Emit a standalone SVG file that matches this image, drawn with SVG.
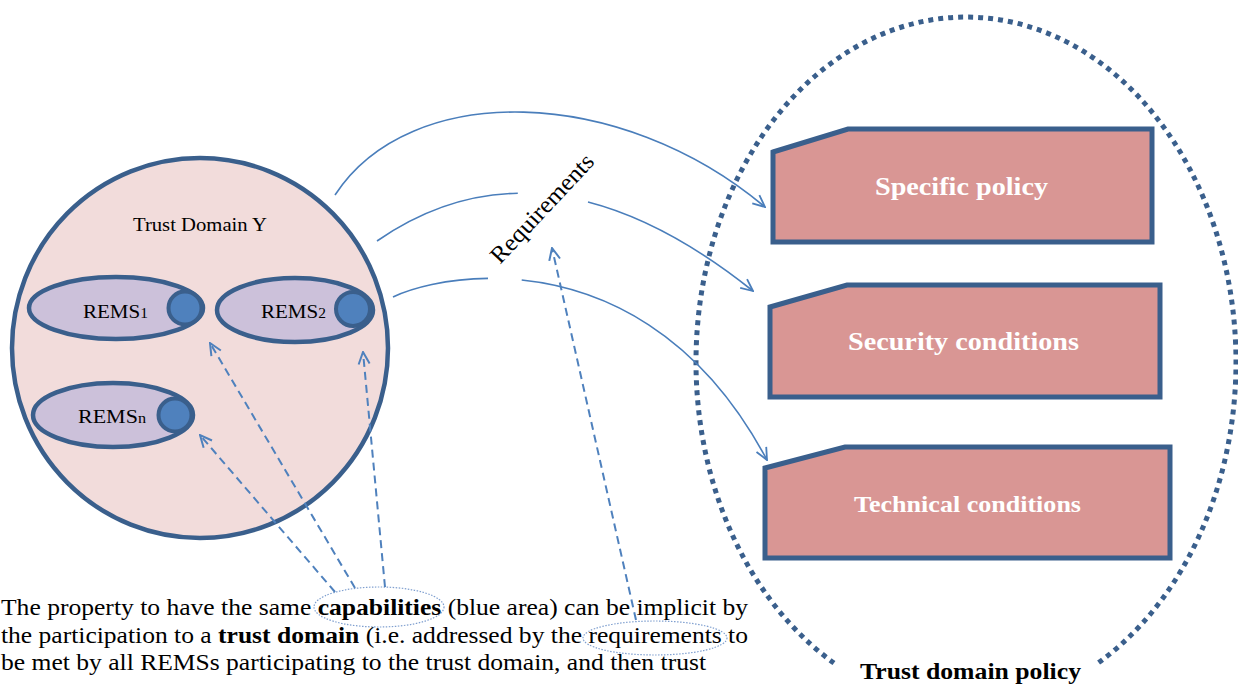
<svg xmlns="http://www.w3.org/2000/svg" width="1238" height="684" viewBox="0 0 1238 684">
  <style>
    .serif { font-family: "Liberation Serif", "Times New Roman", serif; }
    .domain { fill: #F2DCDB; stroke: #3A5F8C; stroke-width: 4.5; }
    .rems { fill: #CCC1DA; stroke: #3A5F8C; stroke-width: 4.5; }
    .cap { fill: #4F81BD; stroke: #3A5F8C; stroke-width: 4; }
    .box { fill: #D99694; stroke: #3A5F8C; stroke-width: 5; stroke-linejoin: miter; }
    .boxtxt { fill: #FFFFFF; font-weight: bold; }
    .arc { fill: none; stroke: #4A7EBB; stroke-width: 1.6; }
    .dash { fill: none; stroke: #4F81BD; stroke-width: 2; stroke-dasharray: 8 5; }
    .policy { fill: none; stroke: #3A5F8C; stroke-width: 5; stroke-dasharray: 5 5; }
    .hl { fill: none; stroke: #7F9FCF; stroke-width: 1.2; stroke-dasharray: 1.5 1.5; }
    .lbl { fill: #000000; }
  </style>
  <defs>
    <marker id="open" viewBox="0 0 14 14" refX="13" refY="7" markerWidth="14" markerHeight="14" orient="auto" markerUnits="userSpaceOnUse">
      <path d="M1,1.5 L13,7 L1,12.5" fill="none" stroke="#4A7EBB" stroke-width="1.8"/>
    </marker>
    <marker id="openD" viewBox="0 0 14 14" refX="13" refY="7" markerWidth="14" markerHeight="14" orient="auto" markerUnits="userSpaceOnUse">
      <path d="M1,1.5 L13,7 L1,12.5" fill="none" stroke="#4F81BD" stroke-width="2"/>
    </marker>
  </defs>

  <!-- Trust domain policy (dotted ellipse) -->
  <g id="trust-domain-policy">
    <path class="policy" d="M834,663 A270,345 0 1 1 1098,663"/>
    <text class="serif lbl" x="860" y="679" font-size="24" font-weight="bold" textLength="221" lengthAdjust="spacingAndGlyphs">Trust domain policy</text>
  </g>

  <!-- Trust Domain Y -->
  <g id="trust-domain-y">
    <ellipse class="domain" cx="200" cy="348" rx="188" ry="190"/>
    <text class="serif lbl" x="133" y="231" font-size="19" textLength="134" lengthAdjust="spacingAndGlyphs">Trust Domain Y</text>
  </g>

  <g id="rems1">
    <ellipse class="rems" cx="116" cy="308" rx="87" ry="31"/>
    <circle class="cap" cx="185" cy="308" r="16.5"/>
    <text class="serif lbl" x="83" y="318" font-size="19" textLength="65" lengthAdjust="spacingAndGlyphs">REMS<tspan font-size="14">1</tspan></text>
  </g>
  <g id="rems2">
    <ellipse class="rems" cx="295" cy="310" rx="78" ry="32"/>
    <circle class="cap" cx="353" cy="309" r="17"/>
    <text class="serif lbl" x="261" y="318" font-size="19" textLength="65" lengthAdjust="spacingAndGlyphs">REMS<tspan font-size="14">2</tspan></text>
  </g>
  <g id="remsn">
    <ellipse class="rems" cx="113" cy="415" rx="80" ry="32"/>
    <circle class="cap" cx="175" cy="415" r="16.5"/>
    <text class="serif lbl" x="78" y="423" font-size="19" textLength="68" lengthAdjust="spacingAndGlyphs">REMS<tspan font-size="14">n</tspan></text>
  </g>

  <!-- Policy boxes -->
  <g id="specific-policy">
    <polygon class="box" points="773,152 848,129 1152,129 1152,242 773,242"/>
    <text class="serif boxtxt" x="875" y="195" font-size="26" textLength="173" lengthAdjust="spacingAndGlyphs">Specific policy</text>
  </g>
  <g id="security-conditions">
    <polygon class="box" points="770,307 847,285 1160,285 1160,397 770,397"/>
    <text class="serif boxtxt" x="848" y="350" font-size="26" textLength="231" lengthAdjust="spacingAndGlyphs">Security conditions</text>
  </g>
  <g id="technical-conditions">
    <polygon class="box" points="765,468 845,447 1170,447 1170,558 765,558"/>
    <text class="serif boxtxt" x="854" y="512" font-size="24" textLength="227" lengthAdjust="spacingAndGlyphs">Technical conditions</text>
  </g>

  <!-- Requirements label -->
  <g id="requirements">
    <text class="serif lbl" x="0" y="0" font-size="24" textLength="140" lengthAdjust="spacingAndGlyphs" transform="translate(500,265) rotate(-47)">Requirements</text>
  </g>

  <!-- Caption text -->
  <g id="caption">
    <ellipse class="hl" cx="379" cy="607" rx="65" ry="20"/>
    <ellipse class="hl" cx="655" cy="638" rx="72" ry="17"/>
    <text class="serif lbl" x="1" y="615" font-size="24" textLength="747" lengthAdjust="spacingAndGlyphs">The property to have the same <tspan font-weight="bold">capabilities</tspan> (blue area) can be implicit by</text>
    <text class="serif lbl" x="1" y="643" font-size="24" textLength="747" lengthAdjust="spacingAndGlyphs">the participation to a <tspan font-weight="bold">trust domain</tspan> (i.e. addressed by the requirements to</text>
    <text class="serif lbl" x="1" y="670" font-size="24" textLength="705" lengthAdjust="spacingAndGlyphs">be met by all REMSs participating to the trust domain, and then trust</text>
  </g>

  <!-- Connectors -->
  <g id="connectors">
    <path class="arc" d="M335,195 C410,80 620,85 765,207" marker-end="url(#open)"/>
    <path class="arc" d="M377,241 Q444.2,194.6 517.8,193.3"/>
    <path class="arc" d="M588,202 Q667.1,222.4 753,291" marker-end="url(#open)"/>
    <path class="arc" d="M393,297 C411.8,288.1 446.2,278.9 488,278.4"/>
    <path class="arc" d="M521.7,280 C601.7,288.2 698.6,331.3 767,460" marker-end="url(#open)"/>
    <path class="dash" d="M335,592 L200,435" marker-end="url(#openD)"/>
    <path class="dash" d="M355,588 L210,343" marker-end="url(#openD)"/>
    <path class="dash" d="M385,587 L363,352" marker-end="url(#openD)"/>
    <path class="dash" d="M636,620 L552,248" marker-end="url(#openD)"/>
  </g>
</svg>
